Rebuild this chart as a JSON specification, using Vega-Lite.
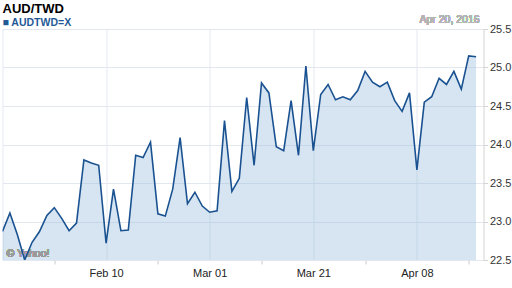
{
  "$schema": "https://vega.github.io/schema/vega-lite/v6.json",
  "width": 481,
  "height": 231,
  "autosize": {"type": "none"},
  "padding": {"left": 2.5, "top": 29, "right": 28.5, "bottom": 28},
  "background": "#ffffff",
  "title": {
    "text": "AUD/TWD",
    "subtitle": "■ AUDTWD=X",
    "anchor": "start",
    "frame": "group",
    "font": "Liberation Sans",
    "fontSize": 13,
    "fontWeight": "bold",
    "color": "#000000",
    "subtitleFont": "Liberation Sans",
    "subtitleFontSize": 10.5,
    "subtitleFontWeight": "bold",
    "subtitleColor": "#1f5a96",
    "subtitlePadding": 2,
    "offset": -13.5
  },
  "data": {
    "values": [
      {"date": "2016-01-21", "rate": 22.87},
      {"date": "2016-01-22", "rate": 23.11},
      {"date": "2016-01-25", "rate": 22.83},
      {"date": "2016-01-26", "rate": 22.50},
      {"date": "2016-01-27", "rate": 22.73},
      {"date": "2016-01-28", "rate": 22.87},
      {"date": "2016-01-29", "rate": 23.08},
      {"date": "2016-02-01", "rate": 23.18},
      {"date": "2016-02-02", "rate": 23.04},
      {"date": "2016-02-03", "rate": 22.88},
      {"date": "2016-02-04", "rate": 22.98},
      {"date": "2016-02-05", "rate": 23.80},
      {"date": "2016-02-08", "rate": 23.76},
      {"date": "2016-02-09", "rate": 23.73},
      {"date": "2016-02-10", "rate": 22.72},
      {"date": "2016-02-11", "rate": 23.42},
      {"date": "2016-02-12", "rate": 22.88},
      {"date": "2016-02-15", "rate": 22.89},
      {"date": "2016-02-16", "rate": 23.86},
      {"date": "2016-02-17", "rate": 23.83},
      {"date": "2016-02-18", "rate": 24.03},
      {"date": "2016-02-19", "rate": 23.10},
      {"date": "2016-02-22", "rate": 23.07},
      {"date": "2016-02-23", "rate": 23.42},
      {"date": "2016-02-24", "rate": 24.09},
      {"date": "2016-02-25", "rate": 23.23},
      {"date": "2016-02-26", "rate": 23.38},
      {"date": "2016-02-29", "rate": 23.20},
      {"date": "2016-03-01", "rate": 23.12},
      {"date": "2016-03-02", "rate": 23.14},
      {"date": "2016-03-03", "rate": 24.31},
      {"date": "2016-03-04", "rate": 23.39},
      {"date": "2016-03-07", "rate": 23.56},
      {"date": "2016-03-08", "rate": 24.61},
      {"date": "2016-03-09", "rate": 23.73},
      {"date": "2016-03-10", "rate": 24.80},
      {"date": "2016-03-11", "rate": 24.67},
      {"date": "2016-03-14", "rate": 23.97},
      {"date": "2016-03-15", "rate": 23.92},
      {"date": "2016-03-16", "rate": 24.57},
      {"date": "2016-03-17", "rate": 23.86},
      {"date": "2016-03-18", "rate": 25.02},
      {"date": "2016-03-21", "rate": 23.92},
      {"date": "2016-03-22", "rate": 24.65},
      {"date": "2016-03-23", "rate": 24.78},
      {"date": "2016-03-24", "rate": 24.58},
      {"date": "2016-03-25", "rate": 24.62},
      {"date": "2016-03-28", "rate": 24.58},
      {"date": "2016-03-29", "rate": 24.70},
      {"date": "2016-03-30", "rate": 24.95},
      {"date": "2016-03-31", "rate": 24.81},
      {"date": "2016-04-01", "rate": 24.75},
      {"date": "2016-04-04", "rate": 24.81},
      {"date": "2016-04-05", "rate": 24.57},
      {"date": "2016-04-06", "rate": 24.43},
      {"date": "2016-04-07", "rate": 24.67},
      {"date": "2016-04-08", "rate": 23.67},
      {"date": "2016-04-11", "rate": 24.55},
      {"date": "2016-04-12", "rate": 24.62},
      {"date": "2016-04-13", "rate": 24.86},
      {"date": "2016-04-14", "rate": 24.78},
      {"date": "2016-04-15", "rate": 24.95},
      {"date": "2016-04-18", "rate": 24.72},
      {"date": "2016-04-19", "rate": 25.15},
      {"date": "2016-04-20", "rate": 25.14}
    ]
  },
  "encoding": {
    "x": {
      "field": "date",
      "type": "ordinal",
      "sort": "ascending",
      "scale": {"type": "point", "padding": 0, "domain": {"unionWith": ["2016-04-21"]}},
      "axis": {
        "title": null,
        "orient": "bottom",
        "domain": false,
        "labelAngle": 0,
        "labelOverlap": false,
        "values": ["2016-01-21", "2016-02-01", "2016-02-10", "2016-02-19", "2016-03-01", "2016-03-10", "2016-03-21", "2016-03-30", "2016-04-08", "2016-04-19"],
        "labelExpr": "datum.value == '2016-02-10' ? 'Feb 10' : datum.value == '2016-03-01' ? 'Mar 01' : datum.value == '2016-03-21' ? 'Mar 21' : datum.value == '2016-04-08' ? 'Apr 08' : ''",
        "labelFont": "Liberation Sans",
        "labelFontSize": 11,
        "labelColor": "#222222",
        "labelPadding": 3,
        "tickSize": 4,
        "tickColor": "#cccccc",
        "tickOpacity": {"condition": {"test": "indexof(['2016-02-01','2016-02-19','2016-03-10','2016-03-30','2016-04-19'], datum.value) >= 0", "value": 1}, "value": 0},
        "grid": true,
        "gridColor": "#e3e8f0",
        "gridOpacity": {"condition": {"test": "indexof(['2016-01-21','2016-02-10','2016-03-01','2016-03-21','2016-04-08'], datum.value) >= 0", "value": 1}, "value": 0}
      }
    },
    "y": {
      "field": "rate",
      "type": "quantitative",
      "scale": {"domain": [22.5, 25.5], "zero": false, "nice": false},
      "axis": {
        "title": null,
        "orient": "right",
        "values": [22.5, 23, 23.5, 24, 24.5, 25, 25.5],
        "labelExpr": "format(datum.value, '.1f')",
        "labelOverlap": false,
        "labelBound": false,
        "labelFlush": false,
        "domain": true,
        "domainColor": "#d4d4d4",
        "tickColor": "#d4d4d4",
        "tickSize": 4,
        "labelPadding": 2,
        "labelFont": "Liberation Sans",
        "labelFontSize": 11,
        "labelColor": "#333333",
        "grid": true,
        "gridColor": "#e3e8f0"
      }
    }
  },
  "layer": [
    {
      "mark": {"type": "area", "color": "#8db8d7", "opacity": 0.36, "clip": true},
      "encoding": {
        "y2": {"datum": 22.5}
      }
    },
    {
      "mark": {"type": "text", "text": "© Yahoo!", "align": "left", "baseline": "alphabetic", "dx": 4, "dy": -3, "font": "Liberation Sans", "fontSize": 10.5, "color": "#9a9a9a"},
      "encoding": {
        "x": {"datum": "2016-01-21", "type": "ordinal"},
        "y": {"datum": 22.5, "type": "quantitative"}
      }
    },
    {
      "mark": {"type": "line", "color": "#1a5291", "strokeWidth": 1.6, "clip": true},
      "encoding": {}
    },
    {
      "mark": {"type": "text", "text": "Apr 20, 2016", "align": "right", "baseline": "alphabetic", "dx": 3.5, "dy": -6, "font": "Liberation Sans", "fontSize": 10.5, "color": "#b4b4b4"},
      "encoding": {
        "x": {"datum": "2016-04-20", "type": "ordinal"},
        "y": {"datum": 25.5, "type": "quantitative"}
      }
    }
  ],
  "config": {
    "view": {"stroke": null},
    "font": "Liberation Sans",
    "axisY": {"labelOverlap": false}
  }
}
